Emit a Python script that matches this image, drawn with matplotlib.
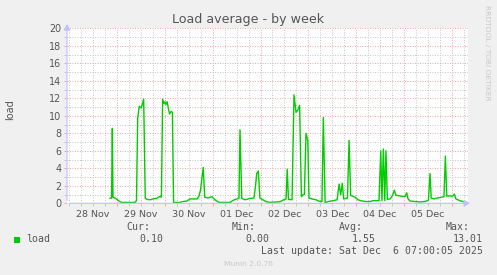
import matplotlib
matplotlib.use("Agg")
import matplotlib.pyplot as plt
from matplotlib.patches import Rectangle
import numpy as np

# hours since 28 Nov 00:00, load average (munin weekly graph)
hours = [20.5, 21.3, 21.7, 22.0, 23.0, 24.0, 24.8, 25.5, 26.5, 33.0, 33.8, 34.4, 35.2, 36.1,
         36.6, 37.4, 38.2, 39.1, 40.6, 42.1, 43.6, 44.6, 45.6, 46.3, 46.9, 47.6, 48.1, 48.6,
         49.2, 49.8, 50.4, 51.1, 51.8, 52.4, 55.6, 57.1, 59.1, 60.6, 64.2, 65.1, 65.9, 67.3,
         68.0, 69.7, 70.7, 71.7, 72.7, 73.7, 75.2, 80.7, 82.3, 84.2, 85.2, 85.7, 86.6, 88.2,
         90.7, 92.7, 93.5, 94.1, 94.9, 95.7, 97.2, 98.7, 100.7, 105.8, 107.4, 108.8, 109.4,
         110.0, 111.8, 112.8, 113.8, 114.8, 115.6, 116.5, 117.5, 118.0, 118.8, 119.7, 120.3,
         121.8, 123.8, 125.8, 126.8, 127.5, 128.4, 129.9, 132.4, 134.4, 135.4, 136.2, 137.0,
         137.7, 139.6, 140.4, 141.2, 143.4, 144.9, 146.9, 148.9, 150.9, 152.4, 155.4, 156.3,
         156.9, 157.6, 158.3, 158.9, 159.6, 161.0, 162.2, 163.1, 164.0, 166.0, 167.5, 168.5,
         169.3, 170.0, 171.0, 173.5, 176.0, 178.5, 180.2, 181.0, 181.6, 183.0, 184.5, 187.0,
         188.0, 188.7, 189.4, 191.0, 192.3, 193.2, 194.0, 195.0, 196.0, 197.5, 199.3]
load = [0.57, 0.6, 8.57, 0.69, 0.6, 0.45, 0.3, 0.18, 0.1, 0.1, 0.3, 9.7, 11.1, 10.9,
        11.2, 11.9, 0.57, 0.45, 0.4, 0.5, 0.55, 0.65, 0.8, 0.7, 11.9, 11.4, 11.6, 11.3,
        11.6, 10.8, 10.2, 10.5, 10.4, 0.1, 0.1, 0.2, 0.26, 0.5, 0.5, 0.8, 1.5, 4.1,
        0.7, 0.6, 0.7, 0.75, 0.5, 0.3, 0.1, 0.1, 0.35, 0.5, 0.6, 8.4, 0.57, 0.4,
        0.55, 0.6, 2.0, 3.4, 3.7, 0.6, 0.4, 0.2, 0.1, 0.18, 0.38, 0.5, 3.9,
        0.45, 0.4, 12.4, 10.4, 10.7, 11.2, 0.75, 1.0, 1.0, 8.0, 7.2, 0.6,
        0.5, 0.4, 0.2, 0.2, 9.8, 0.05, 0.2, 0.3, 0.4, 2.2, 0.95, 2.3,
        0.5, 0.6, 7.2, 0.9, 0.7, 0.4, 0.26, 0.2, 0.2, 0.3, 0.3, 6.0,
        0.3, 6.2, 0.3, 6.0, 0.45, 0.5, 0.9, 1.5, 0.9, 0.85, 0.75, 0.8,
        1.2, 0.5, 0.26, 0.2, 0.15, 0.2, 0.35, 3.4, 0.6, 0.5, 0.6, 0.7,
        0.75, 5.4, 0.83, 0.85, 0.8, 1.06, 0.5, 0.4, 0.3, 0.2, 0.1]

day_labels = ["28 Nov", "29 Nov", "30 Nov", "01 Dec", "02 Dec", "03 Dec", "04 Dec", "05 Dec"]
stats = {"Cur:": "0.10", "Min:": "0.00", "Avg:": "1.55", "Max:": "13.01"}
last_update = "Last update: Sat Dec  6 07:00:05 2025"

W, H = 497, 275
bg = "#F0F0F0"
txt = "#555555"
fig = plt.figure(figsize=(W / 100, H / 100), dpi=100, facecolor=bg)
ax = fig.add_axes([67 / W, 1 - 203.3 / H, 400.7 / W, 175 / H])
ax.set_facecolor("white")

ax.plot(hours, load, color="#00CC00", lw=1.0, zorder=3)

ax.set_xlim(-1.05, 199.9)
ax.set_ylim(0, 20)

ax.set_xticks(np.arange(24, 200, 24))
ax.set_xticks(np.arange(0, 200, 6), minor=True)
ax.set_xticklabels([])
ax.set_yticks(np.arange(0, 21, 2))
ax.set_yticks(np.arange(1, 20, 2), minor=True)

major_c = "#F0A8A8"
minor_c = "#C8C8C8"
ax.grid(which="major", color=major_c, lw=0.72, ls=(0, (1, 1.5)))
ax.grid(which="minor", color=minor_c, lw=0.72, ls=(0, (1, 1.5)))
ax.tick_params(which="major", length=2, width=0.72, color=major_c, labelsize=6.9,
               labelcolor=txt, pad=2)
ax.tick_params(which="minor", length=2, width=0.72, color=minor_c)
ax.tick_params(axis="x", which="major", labelbottom=False)

sec = ax.secondary_xaxis("bottom")
sec.set_xticks(np.arange(12, 200, 24)[:len(day_labels)])
sec.set_xticklabels(day_labels)
sec.tick_params(length=0, labelsize=6.8, labelcolor=txt, pad=5)
sec.spines["bottom"].set_visible(False)

for s in ["top", "right", "left", "bottom"]:
    ax.spines[s].set_visible(False)
axis_c = "#C0C0FF"
ax.annotate("", xy=(0, 1 + 7 / 175), xytext=(0, 0), xycoords="axes fraction",
            arrowprops=dict(arrowstyle="-|>,head_length=0.35,head_width=0.2", color=axis_c, lw=0.8),
            annotation_clip=False)
ax.annotate("", xy=(1 + 5 / 400, 0), xytext=(0, 0), xycoords="axes fraction",
            arrowprops=dict(arrowstyle="-|>,head_length=0.35,head_width=0.2", color=axis_c, lw=0.8),
            annotation_clip=False)

fig.text(248 / W, 1 - 20 / H, "Load average - by week", ha="center", va="center",
         fontsize=9.1, color=txt)
fig.text(10 / W, 1 - 110 / H, "load", rotation=90, ha="center", va="center",
         fontsize=7, color=txt)
fig.text(487 / W, 1 - 5 / H, "RRDTOOL / TOBI OETIKER", rotation=270, ha="center", va="top",
         fontsize=5.4, color="#C8C8C8")

mono = "DejaVu Sans Mono"
fig.patches.append(Rectangle((14 / W, 1 - 242.7 / H), 6 / W, 6 / H, transform=fig.transFigure,
                             facecolor="#00CC00", edgecolor="none"))
fig.text(26 / W, 1 - 239 / H, "load", family=mono, fontsize=7.1, color=txt, va="center")
for (k, v), xr in zip(stats.items(), [150, 256, 363, 470]):
    fig.text(xr / W, 1 - 227.5 / H, k, family=mono, fontsize=7.1, color=txt, ha="right", va="center")
    fig.text((xr + 13) / W, 1 - 239 / H, v, family=mono, fontsize=7.1, color=txt, ha="right", va="center")
fig.text(483 / W, 1 - 251 / H, last_update, family=mono, fontsize=7.1, color=txt,
         ha="right", va="center")
fig.text(248 / W, 1 - 264 / H, "Munin 2.0.76", ha="center", va="center", fontsize=5.4,
         color="#C8C8C8")

fig.savefig("out.png", dpi=100, facecolor=bg)
